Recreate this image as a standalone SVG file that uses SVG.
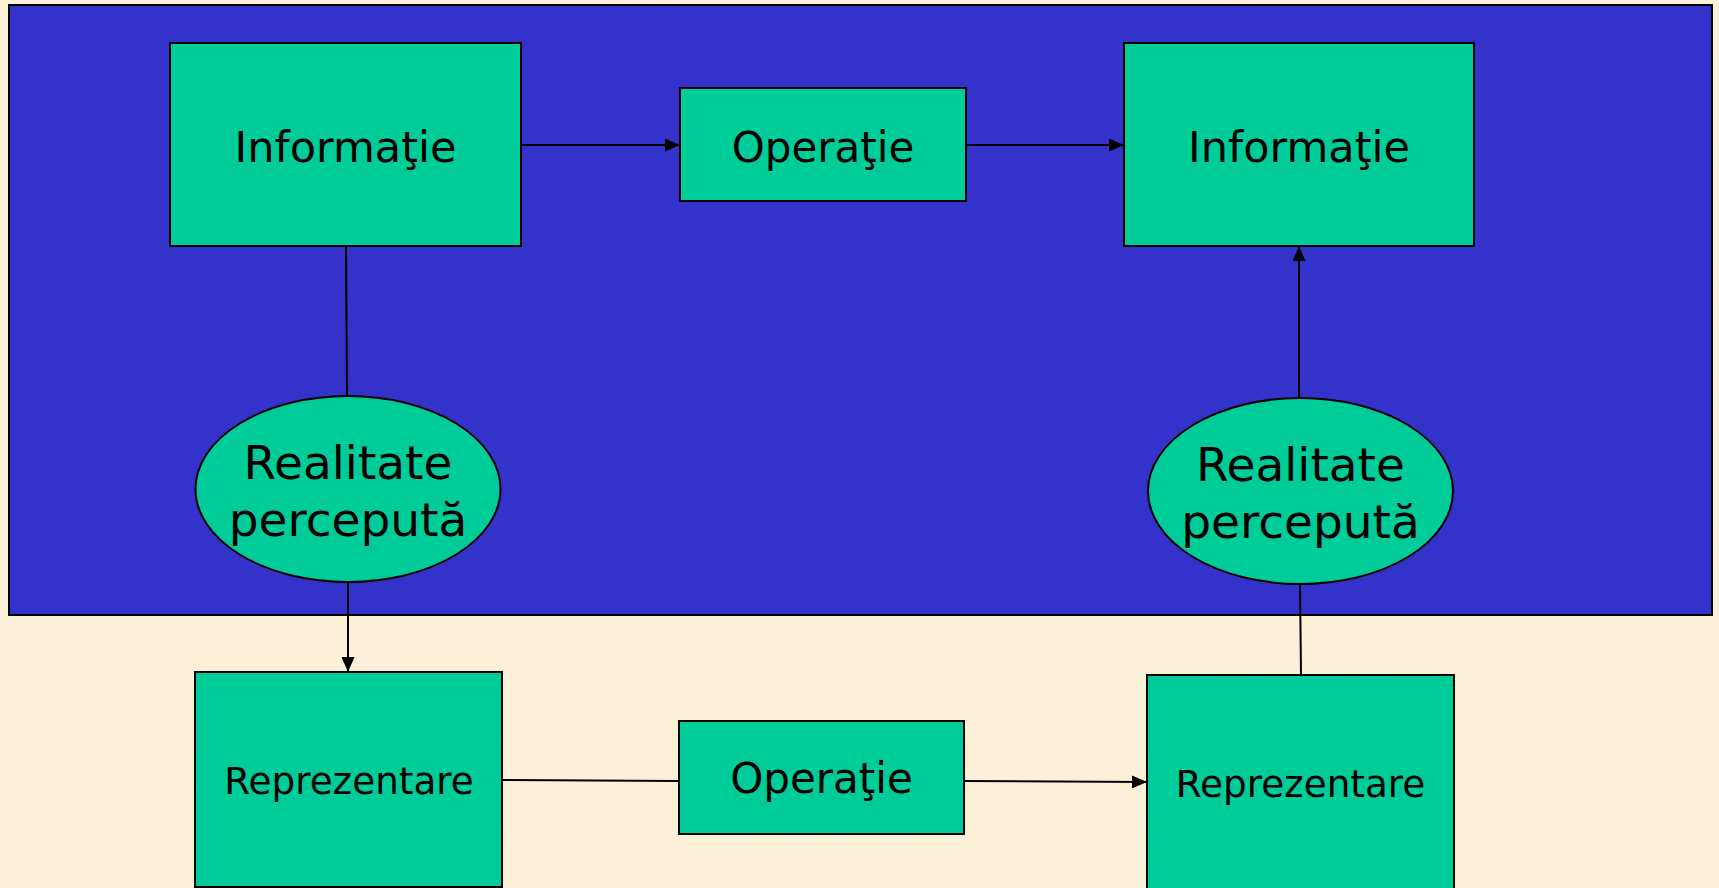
<svg xmlns="http://www.w3.org/2000/svg" width="1719" height="888" viewBox="0 0 1719 888">
<style>
.box{fill:#00CC99;stroke:#000;stroke-width:2}
.lbl{font-family:"DejaVu Sans","Liberation Sans",sans-serif;fill:#000;text-anchor:middle}
.c{stroke:#000;stroke-width:2;fill:none}
.a{marker-end:url(#ah)}
</style>
<defs>
<marker id="ah" viewBox="0 0 15 13" refX="15" refY="6.5" markerWidth="15" markerHeight="13" markerUnits="userSpaceOnUse" orient="auto">
<path d="M0,0 L15,6.5 L0,13 Z" fill="#000"/>
</marker>
<filter id="tex" x="0" y="0" width="100%" height="100%">
<feTurbulence type="fractalNoise" baseFrequency="0.035" numOctaves="2" seed="3"/>
<feColorMatrix type="matrix" values="0 0 0 0 0.93  0 0 0 0 0.84  0 0 0 0 0.55  0 0 0 0.3 -0.05"/>
</filter>
</defs>
<rect id="background" x="0" y="0" width="1719" height="888" fill="#FDF0DA"/>
<rect x="0" y="0" width="1719" height="888" filter="url(#tex)"/>
<rect id="panel" x="9" y="5" width="1703" height="610" fill="#3333CC" stroke="#000" stroke-width="2"/>
<g id="connectors">
<line class="c a" x1="521" y1="145" x2="680" y2="145"/>
<line class="c a" x1="966" y1="145" x2="1124" y2="145"/>
<line class="c" x1="346" y1="246" x2="347" y2="396"/>
<line class="c a" x1="348" y1="582" x2="348" y2="672"/>
<line class="c" x1="502" y1="780" x2="679" y2="781"/>
<line class="c a" x1="964" y1="781" x2="1147" y2="782"/>
<line class="c" x1="1301" y1="675" x2="1300" y2="584"/>
<line class="c a" x1="1299" y1="398" x2="1299" y2="246"/>
</g>
<g id="info1">
<rect class="box" x="170" y="43" width="351" height="203"/>
<text class="lbl" x="345.5" y="162" font-size="43">Informaţie</text>
</g>
<g id="op1">
<rect class="box" x="680" y="88" width="286" height="113"/>
<text class="lbl" x="823" y="162" font-size="42">Operaţie</text>
</g>
<g id="info2">
<rect class="box" x="1124" y="43" width="350" height="203"/>
<text class="lbl" x="1299" y="162" font-size="43">Informaţie</text>
</g>
<g id="real1">
<ellipse class="box" cx="348" cy="489" rx="152.5" ry="93"/>
<text class="lbl" x="348" y="479" font-size="47">Realitate</text>
<text class="lbl" x="348" y="536" font-size="47">percepută</text>
</g>
<g id="real2">
<ellipse class="box" cx="1300.5" cy="491" rx="152.5" ry="93"/>
<text class="lbl" x="1300.5" y="481" font-size="47">Realitate</text>
<text class="lbl" x="1300.5" y="538" font-size="47">percepută</text>
</g>
<g id="repr1">
<rect class="box" x="195" y="672" width="307" height="215"/>
<text class="lbl" x="349" y="794" font-size="37.3">Reprezentare</text>
</g>
<g id="op2">
<rect class="box" x="679" y="721" width="285" height="113"/>
<text class="lbl" x="821.5" y="793" font-size="42">Operaţie</text>
</g>
<g id="repr2">
<rect class="box" x="1147" y="675" width="307" height="215"/>
<text class="lbl" x="1300.5" y="797" font-size="37.3">Reprezentare</text>
</g>
</svg>
